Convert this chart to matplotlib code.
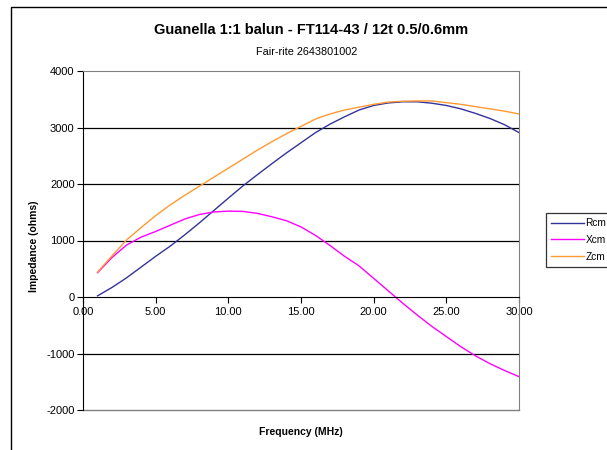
import matplotlib
matplotlib.use("Agg")
import matplotlib.pyplot as plt
from matplotlib.patches import Rectangle
from matplotlib.ticker import FormatStrFormatter

plt.rcParams['font.family'] = ['Liberation Sans', 'DejaVu Sans']
plt.rcParams['axes.unicode_minus'] = False

freq = [1, 2, 3, 4, 5, 6, 7, 8, 9, 10, 11, 12, 13, 14, 15, 16, 17, 18, 19, 20,
        21, 22, 23, 24, 25, 26, 27, 28, 29, 30]
rcm = [20, 170, 340, 530, 720, 900, 1100, 1310, 1530, 1750, 1965, 2165, 2360, 2550,
       2730, 2910, 3060, 3190, 3310, 3390, 3435, 3455, 3455, 3430, 3390, 3330, 3250,
       3160, 3050, 2910]
xcm = [430, 700, 920, 1060, 1160, 1270, 1380, 1460, 1505, 1520, 1515, 1480, 1420,
       1350, 1240, 1090, 910, 720, 550, 330, 110, -110, -320, -520, -700, -880, -1040,
       -1180, -1300, -1410]
zcm = [440, 730, 1010, 1230, 1440, 1630, 1800, 1960, 2120, 2280, 2440, 2600, 2750,
       2890, 3020, 3150, 3240, 3310, 3360, 3410, 3450, 3465, 3470, 3470, 3440, 3410,
       3370, 3330, 3290, 3240]
series_names = ["Rcm", "Xcm", "Zcm"]
x_ticks = [0, 5, 10, 15, 20, 25, 30]
y_ticks = [-2000, -1000, 0, 1000, 2000, 3000, 4000]

fig = plt.figure(figsize=(6.07, 4.5), dpi=100)
fig.patches.append(Rectangle((11/607, -0.1), 1.2, 1 - 7/450 + 0.1, transform=fig.transFigure,
                             fill=False, edgecolor='black', linewidth=1.0))

ax = fig.add_axes([83/607, 1 - 410/450, (519 - 83)/607, (410 - 71)/450])

ax.plot(freq, rcm, color='#333399', linewidth=1.0, label=series_names[0])
ax.plot(freq, xcm, color='#FF00FF', linewidth=1.0, label=series_names[1])
ax.plot(freq, zcm, color='#FF9933', linewidth=1.0, label=series_names[2])

ax.set_xlim(0, 30)
ax.set_ylim(-2000, 4000)

for v in [1000, 2000, 3000, -1000]:
    ax.axhline(v, color='black', linewidth=0.9, zorder=0)

ax.spines['bottom'].set_position(('data', 0))
ax.spines['bottom'].set_color('black')
ax.spines['left'].set_color('black')
ax.spines['top'].set_color('#808080')
ax.spines['right'].set_color('#808080')
ax.axhline(-2000, color='#808080', linewidth=1.0, clip_on=False)

ax.set_xticks(x_ticks)
ax.set_yticks(y_ticks)
ax.xaxis.set_major_formatter(FormatStrFormatter('%.2f'))
ax.tick_params(axis='x', direction='out', length=4, labelsize=8, pad=3)
ax.tick_params(axis='y', direction='out', length=4, labelsize=8, pad=2)

fig.text(311/607, 1 - 30/450, "Guanella 1:1 balun - FT114-43 / 12t 0.5/0.6mm",
         ha='center', va='center', fontsize=10.5, fontweight='bold')
fig.text(307/607, 1 - 52/450, "Fair-rite 2643801002", ha='center', va='center', fontsize=7.8)
fig.text(301/607, 1 - 432/450, "Frequency (MHz)", ha='center', va='center',
         fontsize=7.5, fontweight='bold')
fig.text(34/607, 1 - 246/450, "Impedance (ohms)", ha='center', va='center',
         rotation=90, fontsize=7.5, fontweight='bold')

leg = ax.legend(loc='center left', bbox_to_anchor=(546/607, 1 - 240/450),
                bbox_transform=fig.transFigure, fontsize=7.3, frameon=True,
                fancybox=False, handlelength=3.2, handletextpad=0.2,
                borderpad=0.5, labelspacing=0.65, borderaxespad=0)
leg.get_frame().set_edgecolor('black')
leg.get_frame().set_linewidth(0.9)

fig.savefig("out.png", dpi=100)
